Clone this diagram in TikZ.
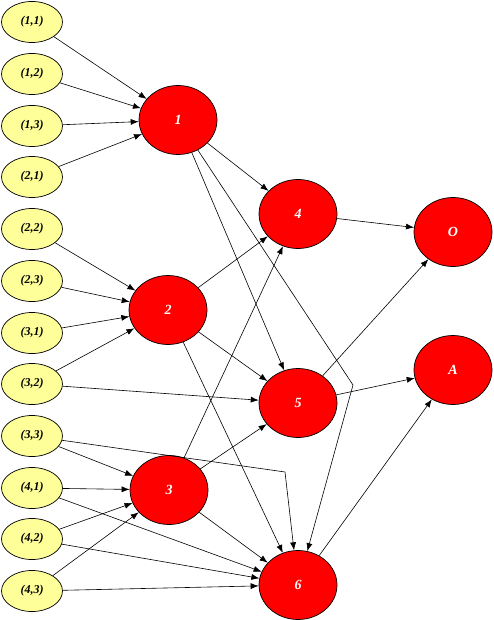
\documentclass[tikz,border=0pt]{standalone}
\usepackage{fontspec}
\setmainfont{Liberation Serif}
\usetikzlibrary{shapes.geometric,arrows.meta}
\definecolor{inyellow}{RGB}{255,255,153}
\begin{document}
\begin{tikzpicture}[x=1pt,y=-1pt,
 inp/.style={ellipse,draw=black,line width=0.7pt,fill=inyellow,minimum width=61pt,minimum height=41pt,inner sep=0pt,font=\fontsize{12}{13}\selectfont\bfseries\itshape},
 hid/.style={ellipse,draw=black,line width=0.7pt,fill=red,minimum width=78pt,minimum height=69pt,inner sep=0pt,text=white,font=\fontsize{14}{15}\selectfont\bfseries\itshape},
 arr/.style={-{Latex[length=8pt,width=6pt]},line width=0.6pt}]
\useasboundingbox (0,0) rectangle (493,620);
% input nodes
\node[inp] (q11) at (32,22) {(1,1)};
\node[inp] (q12) at (32,74) {(1,2)};
\node[inp] (q13) at (32,126) {(1,3)};
\node[inp] (q21) at (32,177) {(2,1)};
\node[inp] (q22) at (32,229) {(2,2)};
\node[inp] (q23) at (32,281) {(2,3)};
\node[inp] (q31) at (32,333) {(3,1)};
\node[inp] (q32) at (32,384) {(3,2)};
\node[inp] (q33) at (32,436) {(3,3)};
\node[inp] (q41) at (32,488) {(4,1)};
\node[inp] (q42) at (32,539) {(4,2)};
\node[inp] (q43) at (32,591) {(4,3)};
% hidden / output nodes
\node[hid] (n1) at (178,120) {1};
\node[hid] (n2) at (168,310) {2};
\node[hid] (n3) at (169,490) {3};
\node[hid] (n4) at (298,214) {4};
\node[hid] (n5) at (298,403) {5};
\node[hid] (n6) at (298,585) {6};
\node[hid] (nO) at (453,232) {O};
\node[hid] (nA) at (453,370) {A};
% bend points
\coordinate (b1) at (353,385);
\coordinate (b2) at (285,472);
% edges into 1
\draw[arr] (q11) -- (n1);
\draw[arr] (q12) -- (n1);
\draw[arr] (q13) -- (n1);
\draw[arr] (q21) -- (n1);
% edges into 2
\draw[arr] (q22) -- (n2);
\draw[arr] (q23) -- (n2);
\draw[arr] (q31) -- (n2);
\draw[arr] (q32) -- (n2);
\draw[arr] (q32) -- (n5);
% edges into 3
\draw[arr] (q33) -- (n3);
\draw[arr] (q41) -- (n3);
\draw[arr] (q42) -- (n3);
\draw[arr] (q43) -- (n3);
% edges into 6 from inputs
\draw[arr] (q33) -- (b2) -- (n6);
\draw[arr] (q41) -- (n6);
\draw[arr] (q42) -- (n6);
\draw[arr] (q43) -- (n6);
% hidden layer
\draw[arr] (n1) -- (n4);
\draw[arr] (n1) -- (n5);
\draw[arr] (n1) -- (b1) -- (n6);
\draw[arr] (n2) -- (n4);
\draw[arr] (n2) -- (n5);
\draw[arr] (n2) -- (n6);
\draw[arr] (n3) -- (n4);
\draw[arr] (n3) -- (n5);
\draw[arr] (n3) -- (n6);
% outputs
\draw[arr] (n4) -- (nO);
\draw[arr] (n5) -- (nO);
\draw[arr] (n5) -- (nA);
\draw[arr] (n6) -- (nA);
\end{tikzpicture}
\end{document}
